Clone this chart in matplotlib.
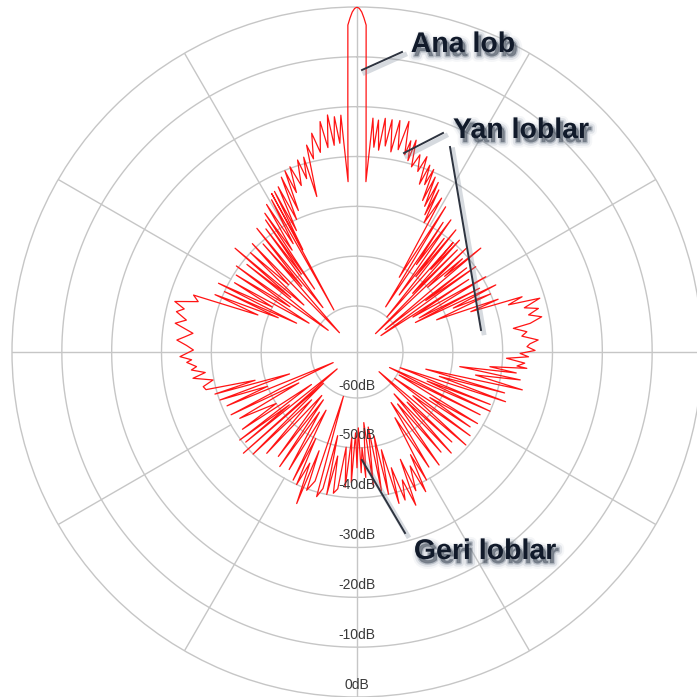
import numpy as np
import matplotlib
matplotlib.use("Agg")
import matplotlib.pyplot as plt
import matplotlib.patheffects as pe
from matplotlib.lines import Line2D

# Radiation pattern samples: azimuth in degrees (clockwise from boresight) and level in dB
main_lobe_r_deg = [0.0, 0.4, 0.8, 1.2, 1.6, 2.1, 2.6, 3.0]
main_lobe_r_db = [0.0, -0.3, -1.0, -2.2, -3.6, -19.0, -29.0, -35.0]

side_r_deg = [3.9, 4.7, 5.3, 6.1, 6.9, 7.8, 8.6, 9.6, 10.5, 11.5, 12.7, 13.6, 14.3, 14.9,
              15.6, 16.4, 17.7, 18.6, 19.7, 20.4, 21.3, 22.0, 22.8, 23.4, 24.1, 24.9,
              25.6, 26.3, 26.8, 27.4]
side_r_db = [-22.2, -28.0, -22.5, -28.5, -22.0, -27.5, -22.1, -28.5, -22.0, -27.8, -21.8,
             -28.5, -25.5, -29.5, -25.1, -30.5, -27.7, -31.0, -27.6, -33.3, -29.0, -33.0,
             -29.5, -36.1, -30.8, -37.0, -31.5, -38.5, -32.8, -40.0]

upper_r_deg = [28.8, 29.5, 31.4, 32.4, 33.6, 34.2, 35.4, 36.5, 37.5, 38.0, 39.0, 40.5, 41.3,
               41.8, 42.5, 43.5, 44.5, 45.2, 46.5, 47.5, 48.5, 49.2, 50.0, 51.5, 52.5, 53.2,
               54.3, 55.5, 57.0, 58.0, 59.7, 61.3, 62.5, 63.2, 64.2, 65.5, 66.5, 68.0, 69.5,
               70.5]
upper_r_db = [-34.0, -52.0, -35.1, -58.5, -38.0, -48.0, -36.7, -55.0, -40.5, -50.0, -37.7,
              -60.0, -40.0, -47.0, -38.8, -53.0, -40.5, -64.0, -39.0, -50.0, -41.0, -46.0,
              -36.8, -62.0, -41.5, -52.0, -39.9, -63.4, -42.5, -56.0, -39.3, -55.0, -41.5,
              -56.1, -38.3, -48.0, -40.0, -52.0, -39.0, -45.0]

flank_r_deg = [71.5, 72.7, 73.6, 75.2, 76.5, 77.8, 79.2, 80.6, 81.4, 83.2, 84.5, 86.2, 87.3,
               88.2, 89.5, 90.5, 91.6, 92.4, 93.8, 95.0, 95.5, 96.3, 97.5, 98.1, 99.7, 101.0]
flank_r_db = [-34.3, -37.4, -31.0, -34.5, -31.8, -34.0, -31.5, -34.0, -37.5, -34.9, -36.0,
              -32.8, -34.5, -35.1, -33.5, -36.5, -34.8, -39.2, -35.5, -37.0, -35.0, -42.4,
              -37.0, -48.4, -36.0, -45.0]

lower_r_deg = [102.9, 104.0, 105.5, 106.5, 108.5, 110.0, 111.5, 112.5, 114.0, 115.5, 117.0,
               118.7, 120.7, 122.0, 123.5, 125.0, 126.5, 128.0, 130.5, 131.8, 133.5, 135.0,
               137.0, 138.5, 140.0, 142.0, 144.0, 146.0, 148.0, 150.0]
lower_r_db = [-35.2, -55.0, -38.5, -52.0, -37.8, -60.0, -40.5, -54.0, -40.0, -62.0, -41.5,
              -59.6, -41.1, -52.0, -42.0, -60.0, -41.0, -55.0, -40.5, -63.3, -43.0, -55.0,
              -41.5, -58.0, -43.0, -56.0, -41.2, -57.0, -42.0, -54.0]

back_deg = [151.5, 152.5, 153.8, 155.0, 157.0, 158.0, 159.0, 160.5, 162.0, 163.5, 164.5,
            166.0, 167.5, 168.5, 170.0, 171.5, 173.0, 174.5, 176.0, 177.0, 178.0, 179.0,
            180.0, 181.0, 182.5, 183.5, 185.0, 186.5, 188.0, 189.5, 190.5, 192.0, 193.0,
            194.0, 195.6, 197.0, 198.0, 200.0, 201.0, 201.7, 203.0, 204.5, 205.5, 206.5]
back_db = [-40.0, -46.0, -38.0, -44.0, -39.0, -46.0, -36.3, -42.0, -38.0, -45.0, -37.7,
           -49.0, -40.0, -52.0, -41.0, -54.0, -42.0, -55.0, -44.0, -50.0, -45.0, -54.0,
           -46.0, -53.0, -43.0, -52.0, -42.0, -50.0, -41.5, -40.5, -48.0, -40.0, -52.0,
           -41.0, -39.1, -59.9, -42.0, -39.7, -48.0, -36.5, -45.0, -40.0, -50.0, -40.5]

lower_l_deg = [208.0, 210.0, 212.0, 214.0, 215.1, 217.0, 219.0, 221.7, 223.5, 225.5, 227.0,
               228.3, 229.5, 231.0, 232.0, 233.1, 234.5, 236.0, 237.5, 240.5, 242.0, 243.5,
               244.5, 246.0, 247.5, 249.0, 250.7, 252.0, 253.5, 254.5, 256.0]
lower_l_db = [-56.0, -42.0, -55.0, -41.5, -57.5, -43.0, -58.0, -42.0, -56.0, -40.0, -60.0,
              -38.7, -64.0, -40.5, -52.0, -39.8, -58.0, -41.5, -50.0, -42.2, -56.0, -41.0,
              -52.0, -64.0, -41.0, -50.0, -40.1, -55.0, -39.5, -48.0, -38.0]

flank_l_deg = [257.3, 259.0, 260.9, 262.3, 263.8, 264.8, 266.5, 267.3, 268.5, 270.7, 272.2,
               273.8, 275.0, 276.5, 279.0, 280.6, 282.6, 284.0, 285.5, 287.6, 289.2]
flank_l_db = [-37.6, -39.8, -35.9, -38.5, -35.8, -36.9, -35.0, -36.0, -33.7, -36.4, -35.0,
              -33.0, -34.5, -36.1, -32.3, -34.4, -32.1, -33.5, -31.3, -35.8, -34.5]

upper_l_deg = [290.5, 292.0, 293.5, 294.5, 295.5, 296.4, 298.0, 299.5, 301.0, 302.5, 304.0,
               305.5, 307.0, 308.5, 309.5, 310.4, 311.5, 313.0, 314.5, 316.0, 317.7, 319.0,
               320.0, 321.0, 322.5, 323.5, 324.5, 325.3, 326.0]
upper_l_db = [-48.0, -38.5, -52.0, -40.0, -55.8, -38.2, -50.0, -41.0, -58.0, -40.5, -53.0,
              -39.5, -62.0, -41.0, -52.0, -37.1, -55.0, -40.0, -50.0, -39.0, -64.0, -40.5,
              -52.0, -37.3, -58.0, -38.5, -50.0, -37.0, -54.0]

side_l_deg = [326.4, 327.5, 328.5, 329.5, 330.7, 331.2, 331.7, 332.1, 332.8, 333.5, 334.5,
              335.5, 336.6, 337.5, 338.3, 339.2, 340.1, 341.5, 342.8, 343.8, 344.7, 345.5,
              346.3, 347.3, 348.3, 349.6, 350.9, 351.9, 352.9, 353.7, 354.5, 355.3, 356.1,
              357.0]
side_l_db = [-35.8, -45.0, -34.5, -44.0, -34.2, -59.6, -33.1, -46.0, -33.0, -42.0, -32.5,
             -40.0, -31.0, -38.5, -30.1, -35.0, -29.7, -34.0, -28.9, -33.0, -28.7, -37.0,
             -26.5, -29.5, -24.4, -28.5, -22.4, -27.8, -21.3, -27.5, -21.8, -27.2, -21.6,
             -35.0]

main_lobe_l_deg = [357.4, 357.9, 358.4, 358.8, 359.2, 359.6, 360.0]
main_lobe_l_db = [-29.0, -19.0, -3.6, -2.2, -1.0, -0.3, 0.0]

ring_levels = [-60, -50, -40, -30, -20, -10, 0]

pattern_deg = np.concatenate([main_lobe_r_deg, side_r_deg, upper_r_deg, flank_r_deg,
                              lower_r_deg, back_deg, lower_l_deg, flank_l_deg,
                              upper_l_deg, side_l_deg, main_lobe_l_deg])
pattern_db = np.concatenate([main_lobe_r_db, side_r_db, upper_r_db, flank_r_db,
                             lower_r_db, back_db, lower_l_db, flank_l_db,
                             upper_l_db, side_l_db, main_lobe_l_db])

W = H = 697
fig = plt.figure(figsize=(W / 100, H / 100), dpi=100)
fig.patch.set_facecolor("white")

cx, cy, R = 357, 352, 345
ax = fig.add_axes([(cx - R) / W, 1 - (cy + R) / H, 2 * R / W, 2 * R / H], projection="polar")
ax.set_theta_zero_location("N")
ax.set_theta_direction(-1)
r_min = -60 - 46 / (299 / 60)
ax.set_ylim(r_min, 0)
ax.grid(False)
ax.set_xticks([])
ax.set_yticks([])
ax.set_facecolor("white")

grid_col = "#c6c6c6"
ax.spines["polar"].set_color(grid_col)
ax.spines["polar"].set_linewidth(1.0)

full = np.linspace(0, 2 * np.pi, 1441)
for lev in ring_levels[:-1]:
    ax.plot(full, np.full_like(full, lev), color=grid_col, lw=1.0, zorder=1)

for deg in range(0, 360, 30):
    t = np.deg2rad(deg)
    if deg % 90 == 0:
        ax.plot([t, t], [r_min, 0], color=grid_col, lw=1.0, zorder=1)
    else:
        ax.plot([t, t], [-40, 0], color=grid_col, lw=1.0, zorder=1)

ax.plot(np.deg2rad(pattern_deg), pattern_db, color="#ff1414", lw=0.9, zorder=3)

for lev in ring_levels:
    ax.text(np.pi, lev - 2.5, f"{lev}dB", ha="center", va="center", fontsize=10,
            color="#3a3a3a", family="Liberation Sans", zorder=4)


def fpt(x, y):
    return x / W, 1 - y / H


shadow_line = [pe.SimpleLineShadow(offset=(2, -2), shadow_color="#7a8696", alpha=0.3,
                                   linewidth=3.5), pe.Normal()]
pointers = [((402, 52), (362, 70)),
            ((443, 133), (404, 153)),
            ((450, 147), (481, 330)),
            ((405, 533), (362, 460))]
for (x0, y0), (x1, y1) in pointers:
    a, b = fpt(x0, y0)
    c, d = fpt(x1, y1)
    fig.add_artist(Line2D([a, c], [b, d], transform=fig.transFigure, color="#2e3440",
                          lw=1.4, path_effects=shadow_line, zorder=5))

shadow_text = [pe.Stroke(linewidth=8, foreground="#a4b0be", alpha=0.10, offset=(2, -3)),
               pe.Stroke(linewidth=5, foreground="#8492a2", alpha=0.18, offset=(2, -3)),
               pe.Stroke(linewidth=2, foreground="#5c6878", alpha=0.30, offset=(2, -3)),
               pe.Normal()]
labels = [("Ana lob", 463, 52), ("Yan loblar", 521, 138), ("Geri loblar", 485, 559)]
for txt, x, y in labels:
    fx, fy = fpt(x, y)
    fig.text(fx, fy, txt, ha="center", va="baseline", fontsize=20.5, fontweight="bold",
             family="Liberation Sans", color="#111a2a", path_effects=shadow_text, zorder=6)

fig.savefig("out.png", dpi=100, facecolor="white")
